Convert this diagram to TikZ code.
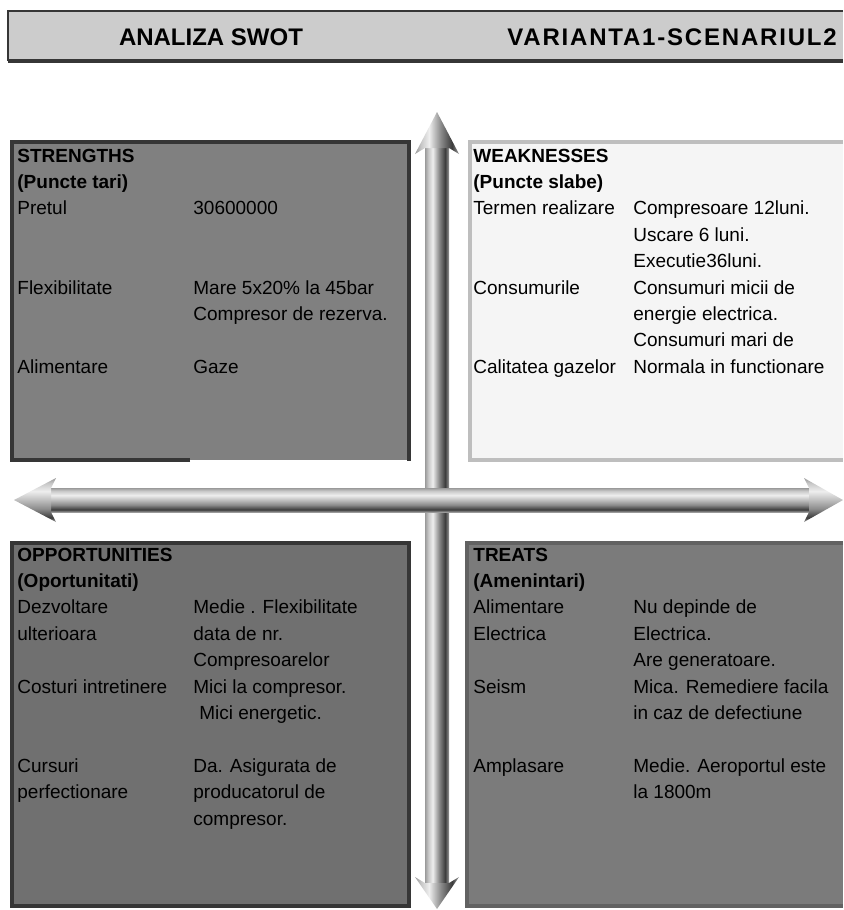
\documentclass[tikz,border=0pt]{standalone}
\usepackage{fontspec}
\setmainfont{Liberation Sans}
\usepackage{array}
\definecolor{hdrfill}{HTML}{CCCCCC}
\definecolor{boxdark}{HTML}{363636}
\definecolor{sfill}{HTML}{808080}
\definecolor{wfill}{HTML}{F5F5F5}
\definecolor{wline}{HTML}{BEBEBE}
\definecolor{ofill}{HTML}{707070}
\definecolor{tfill}{HTML}{7B7B7B}
\definecolor{tline}{HTML}{626262}
\definecolor{tubeedge}{HTML}{9A9A9A}
\definecolor{tubedark}{HTML}{3C3C3C}
\definecolor{tubemid}{HTML}{8C8C8C}
\definecolor{tubelight}{HTML}{C8C8C8}
\definecolor{tubeshine}{HTML}{EEEEEE}
\newcommand{\swotfont}{\fontsize{9.5}{13.2}\selectfont}
\pgfdeclareverticalshading{tubeh}{100bp}{color(0bp)=(tubeedge); color(25bp)=(tubeedge); color(30bp)=(tubedark); color(40bp)=(tubemid); color(52bp)=(tubelight); color(60bp)=(tubeshine); color(69bp)=(tubelight); color(75bp)=(tubeedge); color(100bp)=(tubeedge)}
\pgfdeclarehorizontalshading{tubev}{100bp}{color(0bp)=(tubeedge); color(25bp)=(tubeedge); color(32bp)=(tubelight); color(41bp)=(tubeshine); color(54bp)=(tubemid); color(67bp)=(tubedark); color(75bp)=(tubeedge); color(100bp)=(tubeedge)}
\begin{document}
\begin{tikzpicture}[x=.5pt,y=-.5pt,line join=miter,
  swot/.style={anchor=base west,inner sep=0pt,font=\swotfont},
  title/.style={inner sep=0pt,font=\fontsize{12}{14}\selectfont\bfseries}]
\useasboundingbox (0,0) rectangle (843,910);
% header bar
\fill[hdrfill](8,11) rectangle (843,61);
\draw[line width=1.1pt,draw=boxdark](843,11)--(8,11)--(8,61);
\draw[line width=2pt,draw=boxdark](7.5,61)--(843,61);
% the four boxes
\fill[sfill](12,142) rectangle (409,460);
\draw[line width=1.8pt,draw=boxdark](190,460)--(12,460)--(12,142)--(409,142)--(409,461);
\fill[wfill](470,142) rectangle (843,460);
\draw[line width=1.6pt,draw=wline](843,142)--(470,142)--(470,460)--(843,460);
\fill[ofill](12,543) rectangle (409,906);
\draw[line width=2pt,draw=boxdark](12,543) rectangle (409,906);
\fill[tfill](467,543) rectangle (843,906);
\draw[line width=1.6pt,draw=tline](843,543)--(467,543)--(467,906)--(843,906);
% vertical arrow
\shade[shading=tubev](425,148) rectangle (449,883);
\shade[shading=tubev](437,112)--(459,154)--(449,148)--(425,148)--(415,154)--cycle;
\shade[shading=tubev](437,909)--(459,877)--(449,883)--(425,883)--(415,877)--cycle;
% horizontal arrow
\shade[shading=tubeh](51,488) rectangle (809,512);
\shade[shading=tubeh](14,500)--(56,478)--(51,488)--(51,512)--(56,522)--cycle;
\shade[shading=tubeh](843,500)--(804,478)--(809,488)--(809,512)--(804,522)--cycle;
\node[title,anchor=base] (hdrleft) at (211,45) {ANALIZA SWOT};
\node[title,anchor=base west] (hdrright) at (507,45) {\addfontfeature{LetterSpace=7.5}VARIANTA1-SCENARIUL2};
\node[swot] (strengths) at (17,162) {\begin{tabular}[t]{@{}p{88pt}@{}l@{}}\textbf{STRENGTHS}&\\\textbf{(Puncte tari)}&\\Pretul&30600000\\&\\&\\Flexibilitate&Mare 5x20\% la 45bar\\&Compresor de rezerva.\\&\\Alimentare&Gaze\end{tabular}};
\node[swot] (weaknesses) at (473,162) {\begin{tabular}[t]{@{}p{80pt}@{}l@{}}\textbf{WEAKNESSES}&\\\textbf{(Puncte slabe)}&\\Termen realizare&Compresoare 12luni.\\&Uscare 6 luni.\\&Executie36luni.\\Consumurile&Consumuri micii de\\&energie electrica.\\&Consumuri mari de\\Calitatea gazelor&Normala in functionare\end{tabular}};
\node[swot] (opportunities) at (17,561) {\begin{tabular}[t]{@{}p{88pt}@{}l@{}}\textbf{OPPORTUNITIES}&\\\textbf{(Oportunitati)}&\\Dezvoltare&Medie . Flexibilitate\\ulterioara&data de nr.\\&Compresoarelor\\Costuri intretinere&Mici la compresor.\\&\hspace*{3pt}Mici energetic.\\&\\Cursuri&Da. Asigurata de\\perfectionare&producatorul de\\&compresor.\end{tabular}};
\node[swot] (treats) at (473,561) {\begin{tabular}[t]{@{}p{80pt}@{}l@{}}\textbf{TREATS}&\\\textbf{(Amenintari)}&\\Alimentare&Nu depinde de\\Electrica&Electrica.\\&Are generatoare.\\Seism&Mica. Remediere facila\\&in caz de defectiune\\&\\Amplasare&Medie. Aeroportul este\\&la 1800m\end{tabular}};
\end{tikzpicture}
\end{document}
